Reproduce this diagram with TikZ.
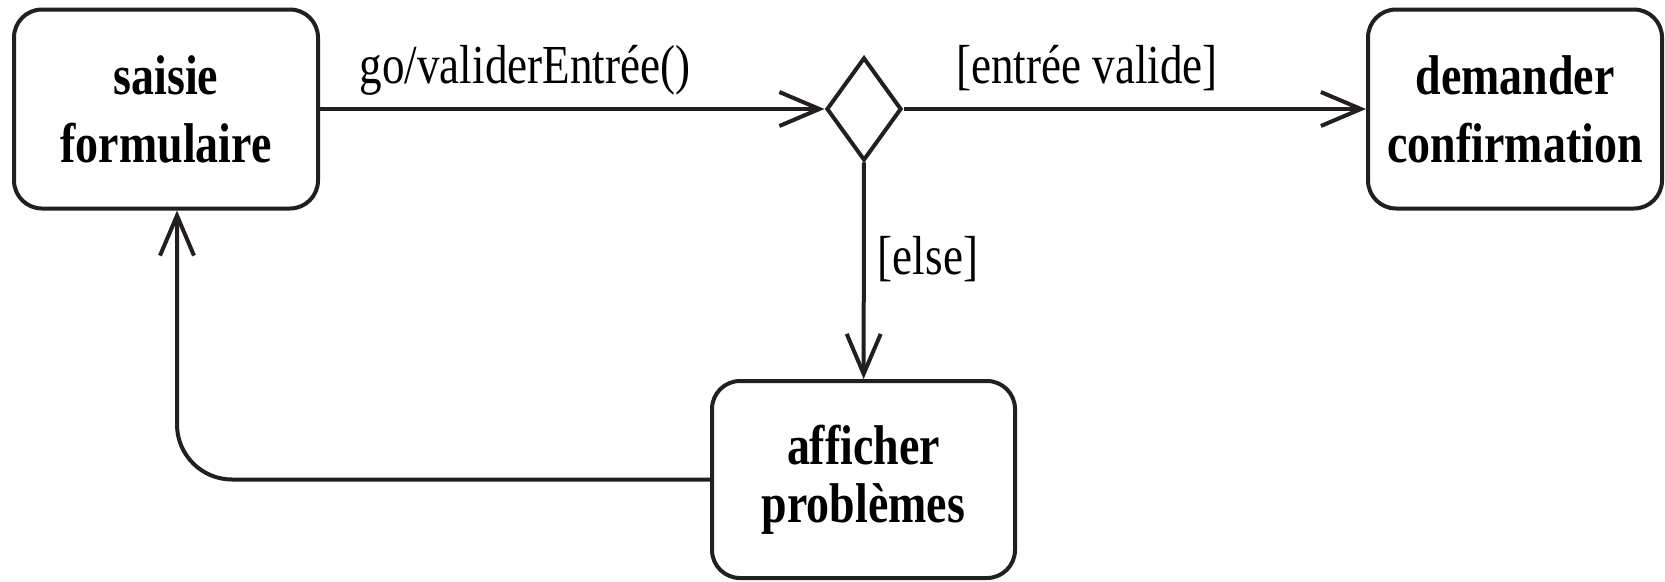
\documentclass[tikz,border=0pt]{standalone}
\usepackage{fontspec}
\setmainfont{Liberation Serif}[FakeStretch=0.82]
\usetikzlibrary{shapes.geometric,arrows.meta}
\definecolor{ink}{HTML}{231F20}
\tikzset{
  state/.style={draw=ink, line width=4pt, rounded corners=28pt, align=center,
    font=\fontsize{56}{68}\selectfont\bfseries, inner sep=0pt},
  choice/.style={draw=ink, line width=4pt, diamond, aspect=0.73, minimum width=75pt,
    minimum height=103pt, inner sep=0pt},
  trans/.style={draw=ink, line width=4pt, -{Straight Barb[length=40pt,width=34pt,line width=4pt]}},
  lbl/.style={font=\fontsize{55}{66}\selectfont, anchor=base, inner sep=0pt}
}
\begin{document}
\begin{tikzpicture}[x=1pt,y=-1pt]
\useasboundingbox (0,0) rectangle (1665,581);
\node[state, minimum width=304pt, minimum height=199pt] (saisie) at (166,109) {saisie\\formulaire};
\node[choice] (d) at (864,109) {};
\node[state, minimum width=294pt, minimum height=199pt] (demander) at (1515,109) {demander\\confirmation};
\node[state, minimum width=303pt, minimum height=197pt] (afficher) at (863.5,479.5) {afficher\\[-10pt]problèmes};
\draw[trans] (saisie) -- (d);
\draw[trans] (d) -- (demander);
\draw[trans] (d) -- (afficher);
\draw[trans, rounded corners=55pt] (afficher.west) -| ([xshift=11pt]saisie.south);
\node[lbl] (l1) at (525,83) {go/validerEntrée()};
\node[lbl] (l2) at (1087,83) {[entrée valide]};
\node[lbl] (l3) at (928,274) {[else]};
\end{tikzpicture}
\end{document}
